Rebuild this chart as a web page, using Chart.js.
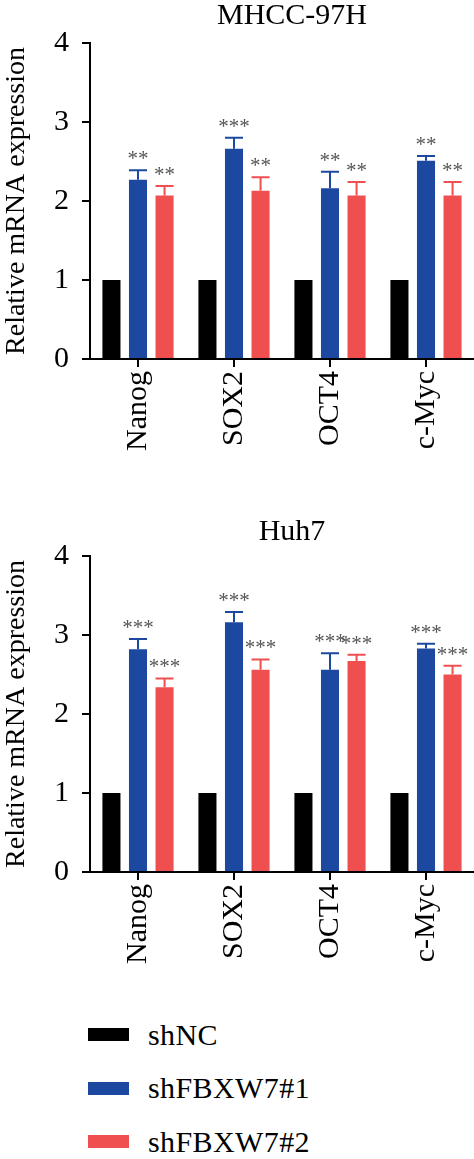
<!DOCTYPE html>
<html>
<head>
<meta charset="utf-8">
<script src="https://cdn.jsdelivr.net/npm/chart.js@4.4.1/dist/chart.umd.min.js"></script>
<style>
  body { margin: 0; background: #fff; width: 474px; height: 1159px; position: relative; overflow: hidden; font-family: "Liberation Serif", serif; }
  canvas { position: absolute; left: 0; }
  #leyenda { position: absolute; left: 88px; top: 1008px; }
  .item { display: flex; align-items: center; height: 53.5px; font-size: 30px; color: #000; letter-spacing: 0.4px; }
  .caja { width: 41px; height: 13px; margin-right: 19px; }
</style>
</head>
<body>
<canvas id="g1" width="474" height="479" style="top:0"></canvas>
<canvas id="g2" width="474" height="477" style="top:515px"></canvas>
<div id="leyenda"></div>

<script>
// ===============================
// DATOS
// ===============================
const genes = ["Nanog", "SOX2", "OCT4", "c-Myc"];
const grupos = ["shNC", "shFBXW7#1", "shFBXW7#2"];
const colores = ["#000000", "#1d489f", "#ef4f4f"];
const ticksY = [0, 1, 2, 3, 4];

// MHCC-97H
const mhccNC = [1, 1, 1, 1];
const mhcc1 = [2.27, 2.66, 2.16, 2.51];
const mhcc1Err = [0.12, 0.14, 0.21, 0.06];
const mhcc1Sig = ["**", "***", "**", "**"];
const mhcc2 = [2.07, 2.13, 2.07, 2.07];
const mhcc2Err = [0.12, 0.17, 0.17, 0.17];
const mhcc2Sig = ["**", "**", "**", "**"];

// Huh7
const huhNC = [1, 1, 1, 1];
const huh1 = [2.82, 3.16, 2.56, 2.83];
const huh1Err = [0.13, 0.13, 0.21, 0.06];
const huh1Sig = ["***", "***", "***", "***"];
const huh2 = [2.34, 2.56, 2.67, 2.50];
const huh2Err = [0.11, 0.13, 0.08, 0.11];
const huh2Sig = ["***", "***", "***", "***"];

const fuente = "'Liberation Serif', 'Times New Roman', serif";
Chart.defaults.color = "#000";
Chart.defaults.font.family = fuente;

// ===============================
// TITULO (centrado sobre el área de barras)
// ===============================
const tituloPlugin = {
  id: "titulo",
  afterDraw(chart, args, opts) {
    const ctx = chart.ctx;
    ctx.save();
    ctx.fillStyle = "#000";
    ctx.font = "30px " + fuente;
    ctx.textAlign = "center";
    ctx.textBaseline = "middle";
    ctx.fillText(opts.texto, opts.x, opts.y);
    ctx.restore();
  }
};

// ===============================
// BARRAS DE ERROR + ASTERISCOS
// ===============================
const barrasError = {
  id: "barrasError",
  afterDatasetsDraw(chart) {
    const ctx = chart.ctx;
    const escalaY = chart.scales.y;
    chart.data.datasets.forEach((ds, i) => {
      if (!ds.errores) return;
      const meta = chart.getDatasetMeta(i);
      meta.data.forEach((bar, j) => {
        const tope = escalaY.getPixelForValue(ds.data[j] + ds.errores[j]);
        const mitad = bar.width / 2;
        ctx.save();
        ctx.strokeStyle = ds.backgroundColor;
        ctx.lineWidth = 2;
        ctx.beginPath();
        ctx.moveTo(bar.x, bar.y);
        ctx.lineTo(bar.x, tope);
        ctx.moveTo(bar.x - mitad, tope);
        ctx.lineTo(bar.x + mitad, tope);
        ctx.stroke();

        ctx.fillStyle = "#555";
        ctx.font = "21px " + fuente;
        ctx.textAlign = "center";
        ctx.textBaseline = "alphabetic";
        ctx.fillText(ds.estrellas[j], bar.x, tope - 5);
        ctx.restore();
      });
    });
  }
};

function crearGrafica(id, titulo, arriba, tituloY, nc, g1, e1, s1, g2, e2, s2) {
  const ctx = document.getElementById(id).getContext("2d");
  return new Chart(ctx, {
    type: "bar",
    data: {
      labels: genes,
      datasets: [
        { label: grupos[0], data: nc, backgroundColor: colores[0] },
        { label: grupos[1], data: g1, backgroundColor: colores[1], errores: e1, estrellas: s1 },
        { label: grupos[2], data: g2, backgroundColor: colores[2], errores: e2, estrellas: s2 }
      ]
    },
    options: {
      responsive: false,
      animation: false,
      categoryPercentage: 0.83,
      barPercentage: 0.68,
      layout: { padding: { left: 0, right: 0, top: arriba, bottom: 0 } },
      plugins: {
        legend: { display: false },
        tooltip: { enabled: false },
        title: { display: false },
        titulo: { texto: titulo, x: 292, y: tituloY }
      },
      scales: {
        x: {
          afterFit: s => { s.height = 120; },
          grid: { display: true, drawOnChartArea: false, offset: false, tickLength: 8, color: "#000", lineWidth: 2 },
          border: { display: true, color: "#000", width: 2 },
          ticks: { font: { size: 30 }, maxRotation: 90, minRotation: 90, padding: 4 }
        },
        y: {
          min: 0,
          max: 4,
          afterFit: s => { s.width = 90; },
          afterBuildTicks: s => { s.ticks = ticksY.map(v => ({ value: v })); },
          grid: { display: true, drawOnChartArea: false, tickLength: 8, color: "#000", lineWidth: 2 },
          border: { display: true, color: "#000", width: 2 },
          ticks: { font: { size: 30 }, padding: 13 },
          title: {
            display: true,
            text: "Relative mRNA expression",
            font: { size: 28 },
            padding: { top: 0, bottom: 0 }
          }
        }
      }
    },
    plugins: [barrasError, tituloPlugin]
  });
}

// ===============================
// LEYENDA
// ===============================
function crearLeyenda() {
  const cont = document.getElementById("leyenda");
  grupos.forEach((g, i) => {
    const item = document.createElement("div");
    item.className = "item";
    item.innerHTML = `<div class="caja" style="background:${colores[i]}"></div><span>${g}</span>`;
    cont.appendChild(item);
  });
}

crearGrafica("g1", "MHCC-97H", 43, 16, mhccNC, mhcc1, mhcc1Err, mhcc1Sig, mhcc2, mhcc2Err, mhcc2Sig);
crearGrafica("g2", "Huh7", 41, 17, huhNC, huh1, huh1Err, huh1Sig, huh2, huh2Err, huh2Sig);
crearLeyenda();
</script>
</body>
</html>
